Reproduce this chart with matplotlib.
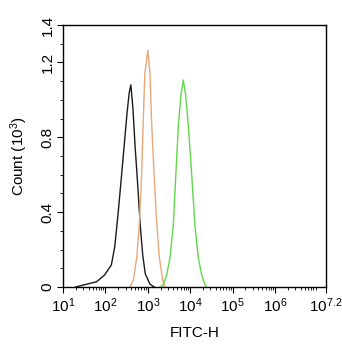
import matplotlib
matplotlib.use("Agg")
import matplotlib.pyplot as plt
import numpy as np
from matplotlib.ticker import FixedLocator, NullFormatter

plt.rcParams['font.family'] = ['Liberation Sans', 'DejaVu Sans']
plt.rcParams['mathtext.fontset'] = 'custom'
plt.rcParams['mathtext.rm'] = 'Liberation Sans'
plt.rcParams['mathtext.it'] = 'Liberation Sans:italic'
plt.rcParams['mathtext.bf'] = 'Liberation Sans:bold'

# log10(FITC-H) positions and counts (x10^3)
black_lx = [1.30, 1.47, 1.79, 1.98, 2.14, 2.22, 2.30, 2.37, 2.44, 2.51, 2.56, 2.60,
            2.65, 2.70, 2.76, 2.82, 2.88, 2.94, 3.05, 3.15]
black_c = [0.0, 0.01, 0.028, 0.064, 0.118, 0.215, 0.395, 0.57, 0.75, 0.93, 1.036, 1.08,
           0.95, 0.75, 0.55, 0.33, 0.17, 0.07, 0.015, 0.0]

orange_lx = [2.58, 2.66, 2.74, 2.80, 2.855, 2.89, 2.93, 3.00, 3.05, 3.09, 3.145,
             3.21, 3.27, 3.35, 3.40]
orange_c = [0.0, 0.037, 0.16, 0.34, 0.61, 0.875, 1.14, 1.266, 1.14, 0.875, 0.61,
            0.34, 0.16, 0.037, 0.0]

green_lx = [3.29, 3.36, 3.445, 3.52, 3.60, 3.66, 3.72, 3.78, 3.836, 3.89, 3.954,
            4.034, 4.11, 4.19, 4.27, 4.35, 4.39]
green_c = [0.0, 0.01, 0.064, 0.155, 0.33, 0.60, 0.866, 1.026, 1.106, 1.026, 0.866,
           0.60, 0.33, 0.155, 0.064, 0.01, 0.0]

x_ticks = [1, 2, 3, 4, 5, 6, 7.2]
x_labels = [r'$\mathrm{10^{1}}$', r'$\mathrm{10^{2}}$', r'$\mathrm{10^{3}}$', r'$\mathrm{10^{4}}$',
            r'$\mathrm{10^{5}}$', r'$\mathrm{10^{6}}$', r'$\mathrm{10^{7.2}}$']
y_ticks = [0, 0.4, 0.8, 1.2, 1.4]
y_labels = ['0', '0.4', '0.8', '1.2', '1.4']

fig = plt.figure(figsize=(3.42, 3.50), dpi=100)
ax = fig.add_axes([63/342, 1-287/350, (326-63)/342, (287-25)/350])

ax.plot(10**np.array(black_lx), black_c, color='#1a1a1a', lw=1.0)
ax.plot(10**np.array(orange_lx), orange_c, color='#e8a878', lw=1.0)
ax.plot(10**np.array(green_lx), green_c, color='#5fd84a', lw=1.0)

ax.set_xscale('log')
ax.set_xlim(10**1, 10**7.2)
ax.set_ylim(0, 1.4)

ax.xaxis.set_major_locator(FixedLocator([10**t for t in x_ticks]))
ax.set_xticklabels(x_labels, fontsize=11)
minors = [m * 10**d for d in range(1, 8) for m in range(2, 10) if m * 10**d < 10**7.2]
ax.xaxis.set_minor_locator(FixedLocator(minors))
ax.xaxis.set_minor_formatter(NullFormatter())

ax.yaxis.set_major_locator(FixedLocator(y_ticks))
ax.set_yticklabels(y_labels, fontsize=11, rotation=90, va='center')
ax.yaxis.set_minor_locator(FixedLocator([i / 10 for i in range(15)]))

ax.tick_params(axis='both', which='major', direction='out', length=4, width=0.8, pad=2)
ax.tick_params(axis='x', which='major', pad=3)
ax.tick_params(axis='both', which='minor', direction='out', length=2, width=0.6)

for s in ax.spines.values():
    s.set_linewidth(1.0)

ax.set_xlabel('FITC-H', fontsize=11, labelpad=8)
ax.set_ylabel(r'Count ($\mathrm{10^3}$)', fontsize=11, labelpad=8)

fig.savefig('out.png', dpi=100)
